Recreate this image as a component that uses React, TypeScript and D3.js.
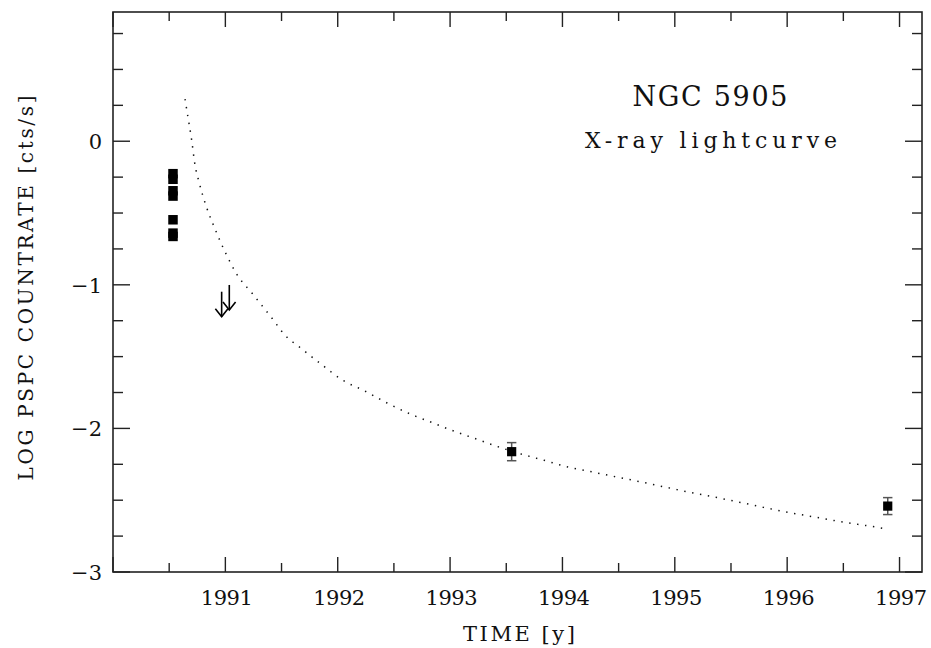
import React from "react";
import * as d3 from "d3";

// ---- data ----
const earlyTimes = [1990.534, 1990.534, 1990.534, 1990.534, 1990.534, 1990.534, 1990.534];
const earlyLogRates = [-0.226, -0.265, -0.345, -0.382, -0.547, -0.64, -0.663];

const limitTimes = [1990.967, 1991.035];
const limitLogRates = [-1.048, -1.001];

const laterTimes = [1993.548, 1996.895];
const laterLogRates = [-2.162, -2.541];
const laterErrors = [0.063, 0.059];

const modelTimes = [
  1990.641, 1990.665, 1990.7, 1990.73, 1990.765, 1990.828, 1990.908, 1990.997,
  1991.101, 1991.243, 1991.427, 1991.516, 1991.685, 1991.863, 1992.041, 1992.243,
  1992.439, 1992.641, 1992.848, 1993.055, 1993.26, 1993.409, 1993.622, 1993.836,
  1994.049, 1994.269, 1994.488, 1994.708, 1994.928, 1995.076, 1995.364, 1995.654,
  1995.945, 1996.242, 1996.535, 1996.826, 1996.9,
];
const modelLogRates = [
  0.294, 0.178, 0.008, -0.166, -0.282, -0.449, -0.611, -0.77,
  -0.925, -1.064, -1.245, -1.338, -1.449, -1.559, -1.663, -1.74,
  -1.823, -1.898, -1.962, -2.025, -2.081, -2.123, -2.176, -2.222,
  -2.269, -2.304, -2.339, -2.374, -2.411, -2.436, -2.48, -2.527,
  -2.575, -2.617, -2.657, -2.692, -2.703,
];

const xMajorTicks = [1990, 1991, 1992, 1993, 1994, 1995, 1996, 1997];
const xTickLabels = ["", "1991", "1992", "1993", "1994", "1995", "1996", "1997"];
const yMajorTicks = [-3, -2, -1, 0];
const yTickLabels = ["\u22123", "\u22122", "\u22121", "0"];

const FONT = "'DejaVu Serif', serif";

export default function App() {
  const W = 931, H = 648;
  const left = 113, right = 922, top = 12, bottom = 572;
  const x = d3.scaleLinear().domain([1990, 1997.2]).range([left, right]);
  const y = d3.scaleLinear().domain([-3, 0.9]).range([bottom, top]);

  const xMinor = d3.range(1990.5, 1997.2, 1);
  const yMinor = d3.range(-3, 0.9, 0.25).filter((v) => Math.abs(v - Math.round(v)) > 1e-6);

  const line = d3
    .line<number>()
    .x((_, i) => x(modelTimes[i]))
    .y((_, i) => y(modelLogRates[i]))
    .curve(d3.curveMonotoneX);

  const majorLen = 15, minorLen = 9;
  const axisColor = "#222";
  const sq = 9.5;

  return (
    <svg
      width={W}
      height={H}
      style={{ position: "absolute", left: 0, top: 0, background: "#fff" }}
      fontFamily={FONT}
    >
      <rect x={0} y={0} width={W} height={H} fill="#fff" />
      {/* frame */}
      <rect x={left} y={top} width={right - left} height={bottom - top} fill="none" stroke={axisColor} strokeWidth={1.6} />

      {/* x ticks */}
      {xMajorTicks.map((t) => (
        <g key={"xm" + t}>
          <line x1={x(t)} x2={x(t)} y1={bottom} y2={bottom - majorLen} stroke={axisColor} strokeWidth={1.4} />
          <line x1={x(t)} x2={x(t)} y1={top} y2={top + majorLen} stroke={axisColor} strokeWidth={1.4} />
        </g>
      ))}
      {xMinor.map((t) => (
        <g key={"xn" + t}>
          <line x1={x(t)} x2={x(t)} y1={bottom} y2={bottom - minorLen} stroke={axisColor} strokeWidth={1.4} />
          <line x1={x(t)} x2={x(t)} y1={top} y2={top + minorLen} stroke={axisColor} strokeWidth={1.4} />
        </g>
      ))}
      {xMajorTicks.map((t, i) =>
        xTickLabels[i] ? (
          <text key={"xl" + t} x={x(t) + 1.5} y={605} textAnchor="middle" fontSize={21} textLength={52} lengthAdjust="spacing" fill="#111">
            {xTickLabels[i]}
          </text>
        ) : null
      )}

      {/* y ticks */}
      {yMajorTicks.map((v) => (
        <g key={"ym" + v}>
          <line x1={left} x2={left + majorLen + 2} y1={y(v)} y2={y(v)} stroke={axisColor} strokeWidth={1.4} />
          <line x1={right} x2={right - majorLen - 2} y1={y(v)} y2={y(v)} stroke={axisColor} strokeWidth={1.4} />
        </g>
      ))}
      {yMinor.map((v) => (
        <g key={"yn" + v}>
          <line x1={left} x2={left + minorLen + 1} y1={y(v)} y2={y(v)} stroke={axisColor} strokeWidth={1.4} />
          <line x1={right} x2={right - minorLen - 1} y1={y(v)} y2={y(v)} stroke={axisColor} strokeWidth={1.4} />
        </g>
      ))}
      {yMajorTicks.map((v, i) => (
        <text key={"yl" + v} x={102} y={y(v) + 8} textAnchor="end" fontSize={21} fill="#111">
          {yTickLabels[i]}
        </text>
      ))}

      {/* axis titles */}
      <text x={519} y={641} textAnchor="middle" fontSize={21} textLength={112} lengthAdjust="spacing" fill="#111">
        TIME [y]
      </text>
      <text
        transform={`translate(33, 288) rotate(-90)`}
        textAnchor="middle"
        fontSize={20}
        textLength={385}
        lengthAdjust="spacing"
        fill="#111"
      >
        LOG PSPC COUNTRATE [cts/s]
      </text>

      {/* annotations */}
      <text x={710} y={106} textAnchor="middle" fontSize={27} textLength={155} lengthAdjust="spacing" fill="#111">
        NGC 5905
      </text>
      <text x={711} y={148} textAnchor="middle" fontSize={22} textLength={252} lengthAdjust="spacing" fill="#111">
        X-ray lightcurve
      </text>

      {/* model curve */}
      <path
        d={line(modelTimes) || ""}
        fill="none"
        stroke="#111"
        strokeWidth={1.5}
        strokeDasharray="1.4 6.6"
      />

      {/* early detections */}
      {earlyTimes.map((t, i) => (
        <rect key={"e" + i} x={x(t) - sq / 2} y={y(earlyLogRates[i]) - sq / 2} width={sq} height={sq} fill="#000" />
      ))}

      {/* upper limits */}
      {limitTimes.map((t, i) => {
        const cx = x(t);
        const y0 = y(limitLogRates[i]);
        const y1 = y0 + 25;
        return (
          <g key={"u" + i} stroke="#000" strokeWidth={1.6} fill="none">
            <line x1={cx} x2={cx} y1={y0} y2={y1} />
            <polyline points={`${cx - 6.3},${y1 - 8} ${cx},${y1} ${cx + 6.3},${y1 - 8}`} />
          </g>
        );
      })}

      {/* later detections with error bars */}
      {laterTimes.map((t, i) => {
        const cx = x(t);
        const cy = y(laterLogRates[i]);
        const yt = y(laterLogRates[i] + laterErrors[i]);
        const yb = y(laterLogRates[i] - laterErrors[i]);
        return (
          <g key={"l" + i}>
            <line x1={cx} x2={cx} y1={yt} y2={yb} stroke="#555" strokeWidth={1.5} />
            <line x1={cx - 4.7} x2={cx + 4.7} y1={yt} y2={yt} stroke="#555" strokeWidth={1.5} />
            <line x1={cx - 4.7} x2={cx + 4.7} y1={yb} y2={yb} stroke="#555" strokeWidth={1.5} />
            <rect x={cx - 4.6} y={cy - 4.6} width={9.2} height={9.2} fill="#000" />
          </g>
        );
      })}
    </svg>
  );
}
